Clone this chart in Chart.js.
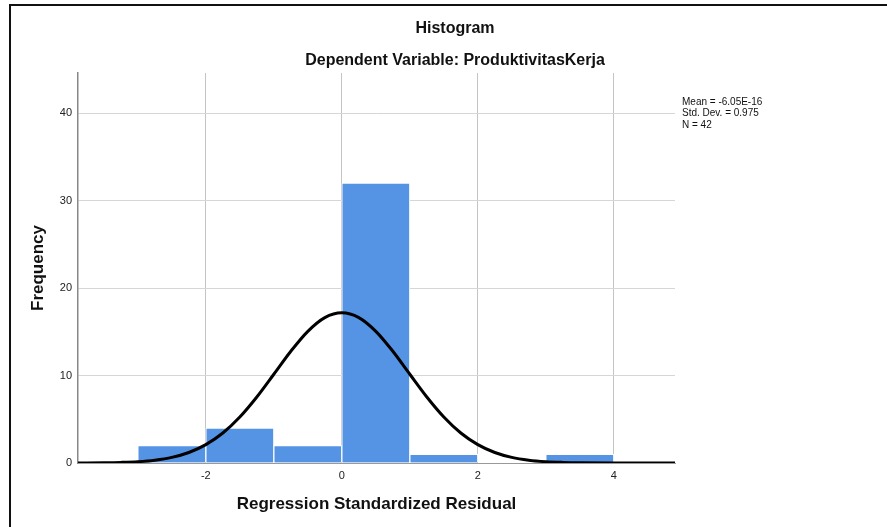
<!DOCTYPE html>
<html>
<head>
<meta charset="utf-8">
<script src="https://cdn.jsdelivr.net/npm/chart.js@4/dist/chart.umd.min.js"></script>
<style>
  html, body { margin: 0; padding: 0; background: #fff; }
  canvas { display: block; }
</style>
</head>
<body>
<canvas id="histChart" width="887" height="527"></canvas>
<script>
// histogram bins (centres) and counts
const binCenters = [-2.5, -1.5, -0.5, 0.5, 1.5, 2.5, 3.5];
const frequencies = [2, 4, 2, 32, 1, 0, 1];

// normal curve, read at points along the drawn line
const curveX = [-3.88, -3.5, -3.25, -3, -2.75, -2.5, -2.25, -2, -1.75, -1.5, -1.25, -1, -0.75, -0.5, -0.25, 0,
                0.25, 0.5, 0.75, 1, 1.25, 1.5, 1.75, 2, 2.25, 2.5, 2.75, 3, 3.25, 3.5, 4, 4.9];
const curveY = [0, 0.03, 0.07, 0.15, 0.32, 0.64, 1.2, 2.1, 3.43, 5.26, 7.55, 10.15, 12.78, 15.06, 16.63, 17.18,
                16.63, 15.06, 12.78, 10.15, 7.55, 5.26, 3.43, 2.1, 1.2, 0.64, 0.32, 0.15, 0.07, 0.03, 0.004, 0];

const xTicks = [-2, 0, 2, 4];
const yTicks = [0, 10, 20, 30, 40];

const titleText = 'Histogram';
const subtitleText = 'Dependent Variable: ProduktivitasKerja';
const statsLines = ['Mean = -6.05E-16', 'Std. Dev. = 0.975', 'N = 42'];

const FONT = "'Liberation Sans', Arial, sans-serif";

// titles, stats box and the frame round the picture
const extras = {
    id: 'extras',
    afterDraw(chart) {
        const ctx = chart.ctx;
        ctx.save();
        ctx.fillStyle = '#111';
        ctx.textAlign = 'center';
        ctx.textBaseline = 'middle';
        ctx.font = 'bold 16px ' + FONT;
        ctx.fillText(titleText, 455, 29);
        ctx.fillText(subtitleText, 455, 61);

        ctx.textAlign = 'left';
        ctx.font = '10px ' + FONT;
        statsLines.forEach(function(line, i) {
            ctx.fillText(line, 682, 102 + i * 11.5);
        });

        ctx.strokeStyle = '#111';
        ctx.lineWidth = 2;
        ctx.beginPath();
        ctx.moveTo(10, 527);
        ctx.lineTo(10, 5);
        ctx.lineTo(887, 5);
        ctx.stroke();
        ctx.restore();
    }
};

const ctx = document.getElementById('histChart').getContext('2d');

new Chart(ctx, {
    type: 'bar',
    data: {
        datasets: [{
            type: 'line',
            data: curveX.map((x, i) => ({ x: x, y: curveY[i] })),
            borderColor: '#000',
            borderWidth: 3,
            pointRadius: 0,
            cubicInterpolationMode: 'monotone',
            fill: false,
            order: 0
        }, {
            type: 'bar',
            data: binCenters.map((x, i) => ({ x: x, y: frequencies[i] })),
            backgroundColor: '#5594e4',
            borderColor: '#ffffff',
            borderWidth: 1,
            categoryPercentage: 1,
            barPercentage: 1,
            order: 1
        }]
    },
    options: {
        responsive: false,
        animation: false,
        layout: {
            padding: { left: 18, right: 212, top: 73, bottom: 0 }
        },
        plugins: {
            legend: { display: false },
            tooltip: { enabled: false }
        },
        scales: {
            x: {
                type: 'linear',
                offset: false,
                min: -3.88,
                max: 4.9,
                afterBuildTicks: s => { s.ticks = xTicks.map(v => ({ value: v })); },
                afterFit: s => { s.height = 64; },
                grid: { offset: false, color: '#c4c4c4', lineWidth: 1, drawTicks: false },
                border: { color: '#999', width: 1 },
                ticks: {
                    padding: 6,
                    color: '#222',
                    font: { family: FONT, size: 11 }
                },
                title: {
                    display: true,
                    text: 'Regression Standardized Residual',
                    color: '#111',
                    font: { family: FONT, size: 17, weight: 'bold' },
                    padding: { top: 0, bottom: 12 }
                }
            },
            y: {
                min: 0,
                max: 44.6,
                afterBuildTicks: s => { s.ticks = yTicks.map(v => ({ value: v })); },
                afterFit: s => { s.width = 60; },
                grid: { color: '#d6d6d6', lineWidth: 1, drawTicks: false },
                border: { color: '#888', width: 1.5 },
                ticks: {
                    padding: 6,
                    color: '#222',
                    font: { family: FONT, size: 11 }
                },
                title: {
                    display: true,
                    text: 'Frequency',
                    color: '#111',
                    font: { family: FONT, size: 17, weight: 'bold' },
                    padding: { top: 10, bottom: 0 }
                }
            }
        }
    },
    plugins: [extras]
});
</script>
</body>
</html>
